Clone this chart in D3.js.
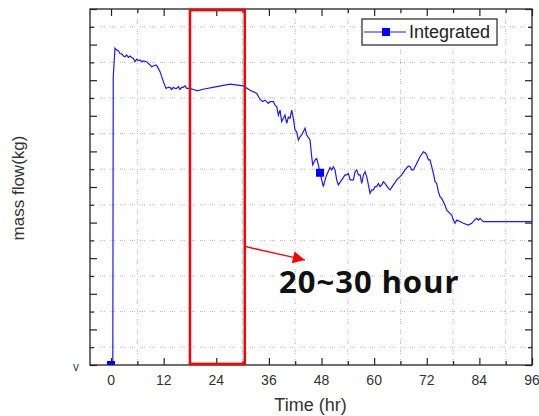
<!DOCTYPE html>
<html>
<head>
<meta charset="utf-8">
<script src="https://cdn.jsdelivr.net/npm/d3@7"></script>
<style>
  body { margin: 0; background: #fff; }
  svg { display: block; font-family: "Liberation Sans", Arial, sans-serif; }
</style>
</head>
<body>
<div class="main"></div>
<script>
// time (hr) and mass flow (arbitrary units, y tick labels are hidden in the source)
const times = [0, 0.4, 0.5, 0.9, 1.29, 1.67, 2.05, 2.43, 2.81, 3.19, 3.57, 3.95, 4.33, 4.71, 5.09, 5.47, 5.85,
  6.23, 6.61, 6.99, 7.37, 8.13, 8.51, 8.89, 9.27, 9.65, 10.26, 10.56, 11.17, 11.55, 11.93, 12.54, 13.07,
  13.45, 13.83, 14.21, 14.59, 14.97, 15.35, 15.73, 16.11, 16.49, 16.87, 17.25, 18.01, 18.77, 19.53, 20.29,
  20.68, 24.1, 27.14, 30.17, 31.7, 33.23, 33.98, 34.59, 35.12, 35.88, 36.26, 37.02, 37.4, 37.78, 38.16,
  38.54, 38.92, 39.3, 39.68, 40.06, 40.44, 40.82, 41.2, 41.58, 41.96, 42.34, 42.72, 43.1, 43.48, 44.24,
  44.62, 45.38, 45.76, 45.99, 46.52, 46.9, 47.28, 47.66, 48.04, 48.42, 48.8, 49.18, 49.94, 50.32, 50.7,
  51.08, 51.46, 51.84, 52.6, 53.37, 53.75, 54.13, 54.51, 55.27, 55.65, 56.03, 56.41, 56.79, 57.17, 57.55,
  57.93, 58.31, 58.69, 59.07, 59.45, 59.83, 60.21, 60.59, 60.97, 61.35, 61.73, 62.11, 62.49, 63.25, 63.63,
  64.39, 65.15, 65.91, 66.29, 67.05, 67.81, 68.19, 68.57, 68.95, 69.33, 70.09, 70.47, 71.23, 71.61, 71.99,
  72.37, 72.75, 73.13, 73.51, 73.89, 74.27, 74.65, 75.03, 75.41, 76.17, 76.55, 77.31, 77.69, 78.07, 78.45,
  78.83, 79.59, 80.35, 81.49, 82.25, 83.01, 83.39, 83.77, 84.15, 84.53, 84.91, 86.43, 96]
const flow = [0, 0, 8.09, 8.9, 8.85, 8.83, 8.75, 8.74, 8.68, 8.66, 8.71, 8.64, 8.68, 8.64, 8.61, 8.52, 8.59,
  8.55, 8.57, 8.52, 8.54, 8.52, 8.47, 8.43, 8.38, 8.4, 8.43, 8.38, 8.24, 8.1, 7.96, 7.77, 7.8,
  7.8, 7.74, 7.8, 7.77, 7.77, 7.82, 7.74, 7.8, 7.8, 7.84, 7.77, 7.77, 7.74, 7.71, 7.72,
  7.74, 7.82, 7.89, 7.84, 7.72, 7.63, 7.46, 7.4, 7.44, 7.35, 7.4, 7.4, 7.3, 7.26, 7.02,
  7.16, 6.84, 6.93, 7.02, 6.79, 6.96, 6.93, 7.16, 6.93, 6.6, 6.55, 6.32, 6.41, 6.46, 6.65,
  6.46, 6.32, 5.85, 5.62, 5.76, 5.8, 5.62, 5.4, 5.2, 5.01, 5.2, 5.34, 5.55, 5.48, 5.57,
  5.48, 5.2, 5.06, 5.2, 5.34, 5.34, 5.38, 5.2, 5.2, 5.43, 5.48, 5.34, 5.34, 5.1, 5.34,
  5.43, 5.29, 5.06, 4.82, 4.92, 4.92, 5.01, 5.01, 5.1, 5.01, 5.06, 5.15, 5.1, 4.96, 4.92,
  5.06, 5.2, 5.29, 5.34, 5.48, 5.59, 5.57, 5.48, 5.48, 5.57, 5.76, 5.85, 5.99, 5.96, 5.9,
  5.76, 5.76, 5.57, 5.38, 5.15, 5.1, 4.87, 4.73, 4.68, 4.49, 4.35, 4.26, 4.21, 4.07, 3.98,
  4.07, 4.03, 3.98, 3.93, 3.98, 4.09, 4.12, 4.07, 4.12, 4.07, 4.03, 4.03, 4.03]
const markerTimes = [0, 47.66]
const xTicks = [0, 12, 24, 36, 48, 60, 72, 84, 96]
const highlight = [18, 30.5]
const seriesName = "Integrated"
const noteText = "20~30 hour"

const W = 539, H = 416
const margin = { top: 9, right: 7, bottom: 51, left: 90 }
const width = W - margin.left - margin.right,
    height = H - margin.top - margin.bottom

const svg = d3.select(".main").append("svg")
    .attr("width", W).attr("height", H)

const g = svg.append("g")
    .attr("transform", `translate(${margin.left}, ${margin.top})`)

const x = d3.scaleLinear().domain([-4.8, 96]).range([0, width])
const y = d3.scaleLinear().domain([0, 10]).range([height, 0])

const data = times.map((t, i) => ({ t, v: flow[i] }))

svg.append("defs").append("clipPath").attr("id", "clip")
    .append("rect").attr("width", width).attr("height", height)

// dotted grid (sits on the minor ticks)
const gridX = d3.range(6, 96, 12), gridY = d3.range(0.5, 10, 1)
const grid = g.append("g").attr("stroke", "#b4b4b4").attr("stroke-width", 1)
    .attr("stroke-dasharray", "1,1,1,1,1,5")
grid.selectAll(".gx").data(gridX).join("line")
    .attr("x1", d => x(d)).attr("x2", d => x(d)).attr("y1", 0).attr("y2", height)
grid.selectAll(".gy").data(gridY).join("line")
    .attr("y1", d => y(d)).attr("y2", d => y(d)).attr("x1", 0).attr("x2", width)

// axes, ticks inward on all four sides
const minorX = d3.range(6, 96, 12)
function tickAx(axis, vals, len) { return axis.tickValues(vals).tickSize(-len).tickFormat("") }
const axes = g.append("g").attr("class", "axes")
axes.append("g").attr("transform", `translate(0, ${height})`).call(tickAx(d3.axisBottom(x), xTicks, 7))
axes.append("g").attr("transform", `translate(0, ${height})`).call(tickAx(d3.axisBottom(x), minorX, 4))
axes.append("g").call(tickAx(d3.axisTop(x), xTicks, 7))
axes.append("g").call(tickAx(d3.axisTop(x), minorX, 4))
axes.append("g").call(tickAx(d3.axisLeft(y), d3.range(0, 11), 7))
axes.append("g").call(tickAx(d3.axisLeft(y), gridY, 4))
axes.append("g").attr("transform", `translate(${width}, 0)`).call(tickAx(d3.axisRight(y), d3.range(0, 11), 7))
axes.append("g").attr("transform", `translate(${width}, 0)`).call(tickAx(d3.axisRight(y), gridY, 4))
axes.selectAll(".domain").remove()
axes.selectAll("line").attr("stroke", "#222").attr("stroke-width", 1.2)
g.append("rect").attr("width", width).attr("height", height)
    .attr("fill", "none").attr("stroke", "#222").attr("stroke-width", 1.3)

// tick labels
g.selectAll(".xl").data(xTicks).join("text")
    .attr("x", d => x(d)).attr("y", height + 20)
    .attr("text-anchor", "middle").attr("font-size", 14).attr("fill", "#333")
    .text(d => d)
g.append("text").attr("x", -17).attr("y", height + 6)
    .attr("font-size", 12).attr("fill", "#444").text("v")

// series
const line = d3.line().x(d => x(d.t)).y(d => y(d.v))
const plot = g.append("g").attr("clip-path", "url(#clip)")
plot.append("path").datum(data).attr("d", line)
    .attr("fill", "none").attr("stroke", "#1a1aff").attr("stroke-width", 1.2)
plot.selectAll(".mk").data(data.filter(d => markerTimes.includes(d.t))).join("rect")
    .attr("x", d => x(d.t) - 4).attr("y", d => y(d.v) - 4)
    .attr("width", 8).attr("height", 8).attr("fill", "#0000ff")

// highlight box and note
g.append("rect")
    .attr("x", x(highlight[0])).attr("width", x(highlight[1]) - x(highlight[0]))
    .attr("y", y(9.97)).attr("height", y(0.03) - y(9.97))
    .attr("fill", "none").attr("stroke", "#ff0000").attr("stroke-width", 2.5)

svg.select("defs").append("marker").attr("id", "head")
    .attr("viewBox", "0 0 10 10").attr("refX", 10).attr("refY", 5)
    .attr("markerWidth", 15).attr("markerHeight", 12).attr("markerUnits", "userSpaceOnUse")
    .attr("orient", "auto")
    .append("path").attr("d", "M0,0L10,5L0,10Z").attr("fill", "#ff0000")
g.append("line")
    .attr("x1", x(highlight[1])).attr("y1", y(3.33))
    .attr("x2", x(44.2)).attr("y2", y(2.95))
    .attr("stroke", "#ff0000").attr("stroke-width", 1.3).attr("marker-end", "url(#head)")
g.append("text").attr("x", x(38.3)).attr("y", y(2.02))
    .attr("font-family", "'Noto Sans', sans-serif").attr("font-weight", "bold")
    .attr("font-size", 31).attr("letter-spacing", 1).attr("fill", "#111").text(noteText)

// legend
const lg = g.append("g").attr("transform", "translate(272, 10)")
lg.append("rect").attr("width", 135).attr("height", 26)
    .attr("fill", "#fff").attr("stroke", "#333").attr("stroke-width", 1.3)
lg.append("line").attr("x1", 2).attr("x2", 44).attr("y1", 13).attr("y2", 13)
    .attr("stroke", "#1a1aff").attr("stroke-width", 1.2)
lg.append("rect").attr("x", 20).attr("y", 9).attr("width", 8).attr("height", 8).attr("fill", "#0000ff")
lg.append("text").attr("x", 47).attr("y", 19).attr("font-size", 18).attr("fill", "#222").text(seriesName)

// axis titles
svg.append("text").attr("x", margin.left + x(48) - 11).attr("y", 411)
    .attr("text-anchor", "middle").attr("font-size", 18).attr("fill", "#333").text("Time (hr)")
svg.append("text").attr("transform", "translate(23.5, 188) rotate(-90)")
    .attr("text-anchor", "middle").attr("font-size", 17).attr("fill", "#333").text("mass flow(kg)")
</script>
</body>
</html>
